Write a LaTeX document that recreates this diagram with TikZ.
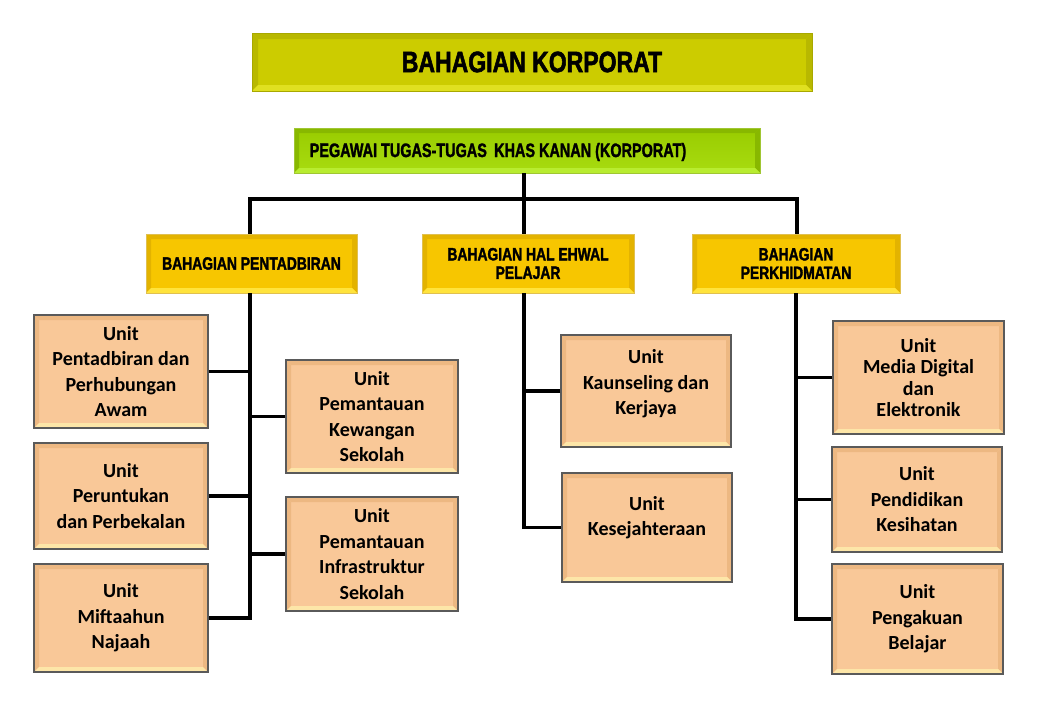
\documentclass[tikz,border=0pt]{standalone}
\usepackage{fontspec}
\setmainfont{Carlito}
\newfontfamily\hfont{Liberation Sans}[FakeStretch=0.78,FakeBold=1.8]
\newfontfamily\hfontn{Liberation Sans}[FakeStretch=0.74,FakeBold=1.5]
\definecolor{unitfill}{HTML}{F9C898}
\definecolor{unitlight}{HTML}{FDE6A8}
\definecolor{unitdark}{HTML}{EDB882}
\definecolor{unitline}{HTML}{5A5A5A}
\definecolor{goldfill}{HTML}{F7C600}
\definecolor{goldlight}{HTML}{FFE33C}
\definecolor{golddark}{HTML}{E3B300}
\definecolor{goldline}{HTML}{E0C050}
\definecolor{titlefill}{HTML}{CCCC00}
\definecolor{titlelight}{HTML}{E0E020}
\definecolor{titledark}{HTML}{B8B800}
\definecolor{titleline}{HTML}{A8A800}
\definecolor{greentop}{HTML}{99CC00}
\definecolor{greenbot}{HTML}{A8DC10}
\definecolor{greenlight}{HTML}{B8EC30}
\definecolor{greendark}{HTML}{88B800}
\tikzset{
  bevel/.style n args={3}{path picture={
    \fill[#2] (path picture bounding box.north west) -- (path picture bounding box.north east)
      -- ([shift={(-#3,-#3)}]path picture bounding box.north east) -- ([shift={(#3,-#3)}]path picture bounding box.north west) -- cycle;
    \fill[#2] (path picture bounding box.north west) -- (path picture bounding box.south west)
      -- ([shift={(#3,#3)}]path picture bounding box.south west) -- ([shift={(#3,-#3)}]path picture bounding box.north west) -- cycle;
    \fill[#2] (path picture bounding box.north east) -- (path picture bounding box.south east)
      -- ([shift={(-#3,#3)}]path picture bounding box.south east) -- ([shift={(-#3,-#3)}]path picture bounding box.north east) -- cycle;
    \fill[#1] (path picture bounding box.south west) -- (path picture bounding box.south east)
      -- ([shift={(-#3,#3)}]path picture bounding box.south east) -- ([shift={(#3,#3)}]path picture bounding box.south west) -- cycle;
  }},
  unit/.style={draw=unitline, line width=1.3pt, fill=unitfill, inner sep=0pt, bevel={unitlight}{unitdark}{5pt}},
  utext/.style={align=center, inner sep=0pt, text=black},
  sect/.style={draw=goldline, line width=0.8pt, fill=goldfill, inner sep=0pt, align=center,
    bevel={goldlight}{golddark}{5pt}, font=\hfont\bfseries\fontsize{17.8}{18.5}\selectfont},
  conn/.style={line width=3.5pt, black},
}
\newcommand\ubox[8]{%
  \node[unit, minimum width=#4pt, minimum height=#5pt] (#1) at (#2,#3) {};
  \node[utext, font=\bfseries\fontsize{20}{#7}\selectfont] (#1t) at ([yshift=#6pt]#1.center) {#8};}
\begin{document}
\begin{tikzpicture}[x=1pt,y=-1pt]
\useasboundingbox[fill=white] (0,0) rectangle (1040,720);

% title
\node[draw=titleline, line width=1pt, fill=titlefill, minimum width=560pt, minimum height=58pt, inner sep=0pt,
  bevel={titlelight}{titledark}{6pt}, font=\hfont\bfseries\fontsize{29.5}{32}\selectfont] (title) at (532,62) {BAHAGIAN KORPORAT};

% pegawai
\node[draw=greendark!80, line width=0.6pt, top color=greentop, bottom color=greenbot, minimum width=466pt, minimum height=45pt, inner sep=0pt,
  bevel={greenlight}{greendark}{5pt}] (peg) at (527,150.5) {};
\node[inner sep=0pt, font=\hfontn\bfseries\fontsize{19.5}{22}\selectfont] (pegt) at (498,152) {PEGAWAI TUGAS-TUGAS\, KHAS KANAN (KORPORAT)};

% sections
\node[sect, minimum width=211pt, minimum height=59pt] (pent) at (251.5,263.5) {BAHAGIAN PENTADBIRAN};
\node[sect, minimum width=212pt, minimum height=59pt] (hal) at (528,263.5) {BAHAGIAN HAL EHWAL\\PELAJAR};
\node[sect, minimum width=208pt, minimum height=59pt] (perk) at (796,263.5) {BAHAGIAN\\PERKHIDMATAN};

% units
\ubox{u1}{121}{371.5}{174}{113}{0}{25.5}{Unit\\Pentadbiran dan\\Perhubungan\\Awam}
\ubox{u2}{121}{496}{174}{106}{0}{25.5}{Unit\\Peruntukan\\dan Perbekalan}
\ubox{u3}{121}{618}{174}{108}{0}{25.5}{Unit\\Miftaahun\\Najaah}
\ubox{u4}{372}{416.5}{172}{113}{0}{25.5}{Unit\\Pemantauan\\Kewangan\\Sekolah}
\ubox{u5}{372}{554}{172}{114}{0}{25.5}{Unit\\Pemantauan\\Infrastruktur\\Sekolah}
\ubox{m1}{646}{391}{170}{112}{7}{25.5}{Unit\\Kaunseling dan\\Kerjaya}
\ubox{m2}{647}{527.5}{170}{109}{10}{25.5}{Unit\\Kesejahteraan}
\ubox{r1}{918.5}{377.5}{171}{113}{0}{21.5}{Unit\\Media Digital\\dan\\Elektronik}
\ubox{r2}{917}{499.5}{170}{105}{0}{25.5}{Unit\\Pendidikan\\Kesihatan}
\ubox{r3}{917.5}{619}{171}{110}{0}{25.5}{Unit\\Pengakuan\\Belajar}

% connectors
\coordinate (jl) at (250,199);
\coordinate (jm) at (524,199);
\coordinate (jr) at (797,199);
\draw[conn] (peg.south -| jm) -- (jm);
\draw[conn] (jl |- pent.north) -- (jl) -- (jr) -- (jr |- perk.north);
\draw[conn] (jm) -- (jm |- hal.north);

\draw[conn] (jl |- pent.south) -- (jl |- u3.east) -- (u3.east);
\draw[conn] (u1.east) -- (u1.east -| jl);
\draw[conn] (u2.east) -- (u2.east -| jl);
\draw[conn] (u4.west) -- (u4.west -| jl);
\draw[conn] (u5.west) -- (u5.west -| jl);

\draw[conn] (jm |- hal.south) -- (jm |- m2.west) -- (m2.west);
\draw[conn] (m1.west) -- (m1.west -| jm);

\coordinate (rv) at (796,293);
\draw[conn] (rv) -- (rv |- r3.west) -- (r3.west);
\draw[conn] (r1.west) -- (r1.west -| rv);
\draw[conn] (r2.west) -- (r2.west -| rv);
\end{tikzpicture}
\end{document}
